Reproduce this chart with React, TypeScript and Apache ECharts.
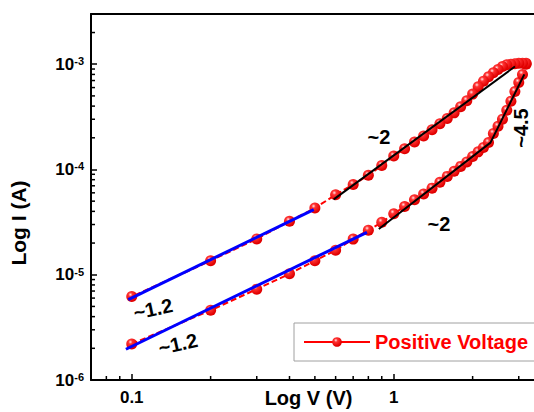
import React, { useEffect, useRef } from 'react';
import * as echarts from 'echarts';

// ---------- data ----------
const forwardV = [0.1, 0.2, 0.3, 0.4, 0.5, 0.6, 0.7, 0.8, 0.9, 1.0, 1.1, 1.2, 1.3, 1.4, 1.5, 1.6, 1.7, 1.8, 1.9, 2.0, 2.1, 2.2, 2.3, 2.4, 2.5, 2.6, 2.7, 2.8, 2.9, 3.0, 3.1, 3.2];
const forwardI = [2.2e-6, 4.6e-6, 7.3e-6, 1.02e-5, 1.36e-5, 1.71e-5, 2.18e-5, 2.65e-5, 3.15e-5, 3.8e-5, 4.45e-5, 5.15e-5, 5.85e-5, 6.65e-5, 7.55e-5, 8.6e-5, 9.6e-5, 1.07e-4, 1.18e-4, 1.33e-4, 1.47e-4, 1.62e-4, 1.8e-4, 2.2e-4, 2.57e-4, 3.0e-4, 3.65e-4, 4.45e-4, 5.5e-4, 6.7e-4, 8.0e-4, 1.0e-3];
const backwardV = [3.2, 3.1, 3.0, 2.9, 2.8, 2.7, 2.6, 2.5, 2.4, 2.3, 2.2, 2.1, 2.0, 1.9, 1.8, 1.7, 1.6, 1.5, 1.4, 1.3, 1.2, 1.1, 1.0, 0.9, 0.8, 0.7, 0.6, 0.5, 0.4, 0.3, 0.2, 0.1];
const backwardI = [1.02e-3, 1.02e-3, 1.02e-3, 1.01e-3, 1.0e-3, 9.9e-4, 9.5e-4, 8.9e-4, 8.3e-4, 7.6e-4, 6.9e-4, 6.1e-4, 5.2e-4, 4.5e-4, 3.95e-4, 3.45e-4, 3.05e-4, 2.72e-4, 2.38e-4, 2.08e-4, 1.82e-4, 1.57e-4, 1.34e-4, 1.09e-4, 8.8e-5, 7.2e-5, 5.75e-5, 4.3e-5, 3.22e-5, 2.19e-5, 1.36e-5, 6.2e-6];

// fitted slope lines [V, I]
const blueUpperFit = [[0.097, 5.8e-6], [0.495, 4.16e-5]];
const blueLowerFit = [[0.095, 1.96e-6], [0.79, 2.53e-5]];
const blackUpperFit = [[0.59, 5.2e-5], [2.9, 9.5e-4]];
const blackLowerFit = [[0.877, 2.72e-5], [2.34, 1.8e-4], [3.15, 8.0e-4]];

// axes
const X_MIN = 0.0699;
const X_MAX = 3.43;
const Y_MIN = 1e-6;
const Y_MAX = 3e-3;
const xMinorTicks = [0.08, 0.09, 0.2, 0.3, 0.4, 0.5, 0.6, 0.7, 0.8, 0.9, 2, 3];
const yMinorTicks = [
  2e-6, 3e-6, 4e-6, 5e-6, 6e-6, 7e-6, 8e-6, 9e-6,
  2e-5, 3e-5, 4e-5, 5e-5, 6e-5, 7e-5, 8e-5, 9e-5,
  2e-4, 3e-4, 4e-4, 5e-4, 6e-4, 7e-4, 8e-4, 9e-4,
  2e-3,
];

const seriesName = 'Positive Voltage';
const xTitle = 'Log V (V)';
const yTitle = 'Log I (A)';
const annotations = [
  { text: '~2', x: 379, y: 137, rot: 0 },
  { text: '~2', x: 439, y: 224, rot: 0 },
  { text: '~1.2', x: 153, y: 309, rot: 0.21 },
  { text: '~1.2', x: 178, y: 344, rot: 0.22 },
  { text: '~4.5', x: 521, y: 128, rot: Math.PI / 2 },
];

const FONT = "'Liberation Sans', Arial, Helvetica, sans-serif";
const MINOR_LEN = 4;

export default function App() {
  const ref = useRef<HTMLDivElement>(null);

  useEffect(() => {
    if (!ref.current) return;
    const chart = echarts.init(ref.current, undefined, { renderer: 'svg' });

    const sweep = [
      ...forwardV.map((v, i) => [v, forwardI[i]]),
      ...backwardV.map((v, i) => [v, backwardI[i]]),
    ];

    const markerColor = new echarts.graphic.RadialGradient(0.38, 0.32, 0.62, [
      { offset: 0, color: '#ffe6e6' },
      { offset: 0.3, color: '#ff3333' },
      { offset: 1, color: '#e00000' },
    ]);

    const axisLineStyle = { color: '#000', width: 2 };
    const tickStyle = { color: '#000', width: 1.5 };

    // minor ticks drawn through the axes' own scales
    const tickData = [
      ...xMinorTicks.map((v) => [v, Y_MIN, 0]),
      ...yMinorTicks.map((v) => [X_MIN, v, 1]),
    ];

    const option: any = {
      animation: false,
      backgroundColor: '#ffffff',
      grid: { left: 91, right: 0, top: 14, bottom: 32, containLabel: false, outerBoundsMode: 'none' },
      legend: {
        data: [seriesName],
        left: 294,
        top: 323,
        padding: [8, 60, 8, 9],
        itemWidth: 66,
        itemHeight: 12,
        borderColor: '#a0a0a0',
        borderWidth: 1,
        borderRadius: 0,
        lineStyle: { type: 'solid', width: 2, color: '#ff0000' },
        textStyle: { color: '#ff0000', fontSize: 20, fontWeight: 'bold', fontFamily: FONT, lineHeight: 22 },
      },
      xAxis: [
        {
          type: 'log', logBase: 10, min: X_MIN, max: X_MAX, position: 'bottom',
          axisLine: { show: true, onZero: false, lineStyle: axisLineStyle },
          axisTick: { show: true, inside: true, length: 6, lineStyle: tickStyle },
          axisLabel: {
            show: true, margin: 9, showMinLabel: false, showMaxLabel: false,
            color: '#000', fontSize: 17, fontWeight: 'bold', fontFamily: FONT,
            formatter: (v: number) => String(v),
          },
          splitLine: { show: false },
          name: xTitle, nameLocation: 'middle', nameGap: 8, nameMoveOverlap: false,
          nameTextStyle: { color: '#000', fontSize: 20, lineHeight: 20, fontWeight: 'bold', fontFamily: FONT, padding: [0, 8, 0, 0] },
        },
        {
          type: 'log', logBase: 10, min: X_MIN, max: X_MAX, position: 'top',
          axisLine: { show: true, onZero: false, lineStyle: axisLineStyle },
          axisTick: { show: false },
          axisLabel: { show: false },
          splitLine: { show: false },
        },
      ],
      yAxis: [
        {
          type: 'log', logBase: 10, min: Y_MIN, max: Y_MAX, position: 'left',
          axisLine: { show: true, onZero: false, lineStyle: axisLineStyle },
          axisTick: { show: true, inside: true, length: 6, lineStyle: tickStyle },
          axisLabel: {
            show: true, margin: 7, showMaxLabel: false,
            formatter: (v: number) => `{b|10}{s|${Math.round(Math.log10(v))}}`,
            rich: {
              b: { color: '#000', fontSize: 17, fontWeight: 'bold', fontFamily: FONT },
              s: { color: '#000', fontSize: 11, fontWeight: 'bold', fontFamily: FONT, verticalAlign: 'top' },
            },
          },
          splitLine: { show: false },
          name: yTitle, nameLocation: 'middle', nameGap: 62, nameMoveOverlap: false,
          nameTextStyle: { color: '#000', fontSize: 21, fontWeight: 'bold', fontFamily: FONT, padding: [0, 52, 0, 0] },
        },
      ],
      series: [
        {
          name: seriesName, type: 'line', data: sweep,
          xAxisIndex: 0, yAxisIndex: 0,
          symbol: 'circle', symbolSize: 11, showAllSymbol: true,
          lineStyle: { color: '#ff0000', width: 2, type: [6, 3] },
          itemStyle: { color: markerColor, borderWidth: 0 },
          z: 2,
        },
        { type: 'line', data: blueUpperFit, symbol: 'none', lineStyle: { color: '#0000ff', width: 3 }, z: 3 },
        { type: 'line', data: blueLowerFit, symbol: 'none', lineStyle: { color: '#0000ff', width: 3 }, z: 3 },
        { type: 'line', data: blackUpperFit, symbol: 'none', lineStyle: { color: '#000', width: 2 }, z: 3 },
        { type: 'line', data: blackLowerFit, symbol: 'none', lineStyle: { color: '#000', width: 2 }, z: 3 },
        {
          type: 'custom', data: tickData, clip: false, silent: true, z: 5,
          encode: { x: 0, y: 1 },
          renderItem: (params: any, api: any) => {
            const p = api.coord([api.value(0), api.value(1)]);
            const isY = api.value(2) === 1;
            return {
              type: 'line',
              shape: isY
                ? { x1: p[0], y1: p[1], x2: p[0] + MINOR_LEN, y2: p[1] }
                : { x1: p[0], y1: p[1], x2: p[0], y2: p[1] - MINOR_LEN },
              style: { stroke: '#000', lineWidth: 1.5 },
            };
          },
        },
      ],
      graphic: annotations.map((a) => ({
        type: 'text',
        x: a.x, y: a.y, rotation: a.rot,
        style: {
          text: a.text, fill: '#000', font: `bold 20px ${FONT}`,
          textAlign: 'center', textVerticalAlign: 'middle',
        },
        z: 10,
      })),
    };

    chart.setOption(option);
    return () => chart.dispose();
  }, []);

  return (
    <div
      ref={ref}
      style={{ position: 'fixed', left: 0, top: 0, width: 534, height: 412, background: '#fff' }}
    />
  );
}
